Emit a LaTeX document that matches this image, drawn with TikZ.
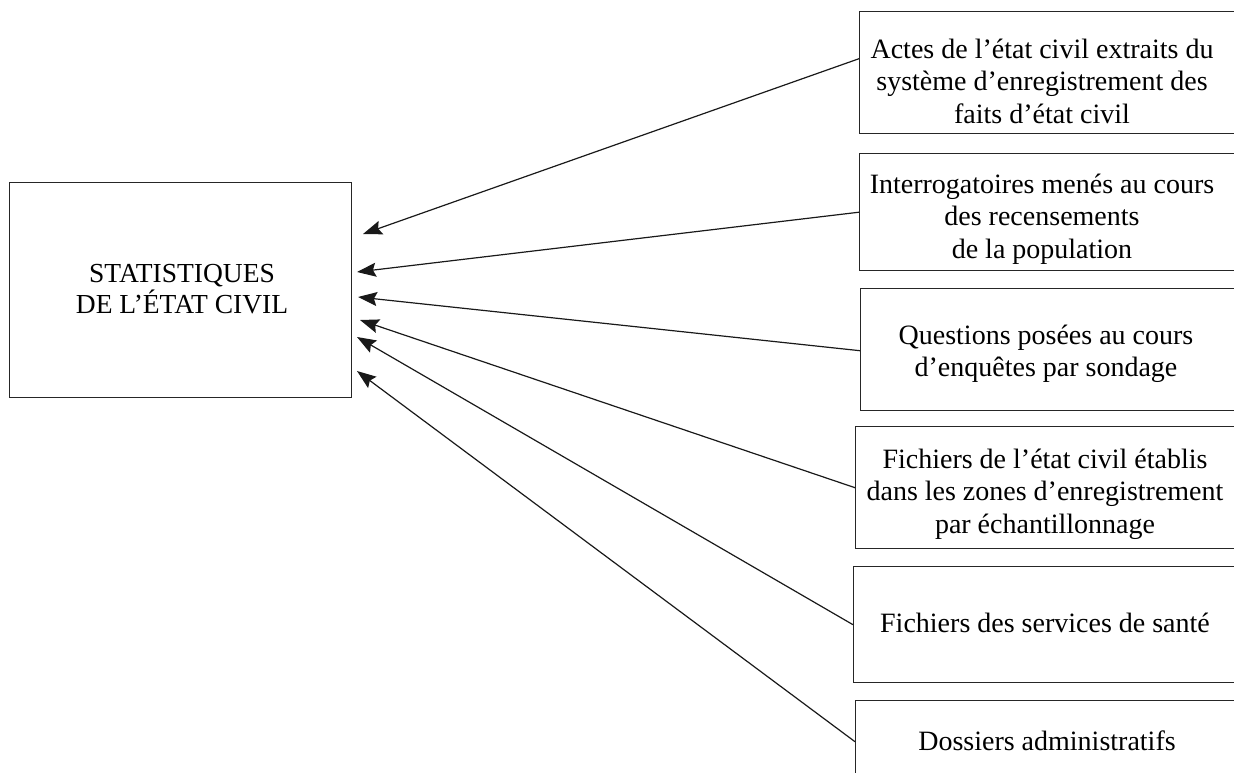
\documentclass[tikz,border=0pt]{standalone}
\usepackage{fontspec}
\setmainfont{Liberation Serif}
\usetikzlibrary{arrows.meta}
\tikzset{
  frame/.style={draw=black!85, line width=1.4pt, inner sep=0pt},
  srcbox/.style={frame, anchor=north west, minimum width=420pt},
  lbl/.style={align=center, inner sep=0pt, font=\fontsize{28}{32.5}\selectfont},
  conn/.style={draw=black!90, line width=1.2pt, -{Stealth[length=19pt,width=14pt,inset=3pt]}}
}
\begin{document}
\begin{tikzpicture}[x=1pt,y=-1pt]
\useasboundingbox (0,0) rectangle (1234,772);
\clip (0,0) rectangle (1234,772);
% main box
\node[frame, anchor=north west, minimum width=342pt, minimum height=215pt] (main) at (9,182) {};
\node[lbl, font=\fontsize{27.5}{31}\selectfont] (mainlbl) at (182,289) {STATISTIQUES\\DE L’ÉTAT CIVIL};
% source boxes
\node[srcbox, minimum height=122pt] (s1) at (859,11) {};
\node[srcbox, minimum height=117pt] (s2) at (859,153) {};
\node[srcbox, minimum height=122pt] (s3) at (860,288) {};
\node[srcbox, minimum height=122pt] (s4) at (855,426) {};
\node[srcbox, minimum height=116pt] (s5) at (853,566) {};
\node[srcbox, minimum height=120pt] (s6) at (855,700) {};
\node[lbl] (l1) at (1042,81) {Actes de l’état civil extraits du\\système d’enregistrement des\\faits d’état civil};
\node[lbl] (l2) at (1042,219) {Interrogatoires menés au cours\\des recensements\\de la population};
\node[lbl] (l3) at (1046,354) {Questions posées au cours\\d’enquêtes par sondage};
\node[lbl] (l4) at (1045,494) {Fichiers de l’état civil établis\\dans les zones d’enregistrement\\par échantillonnage};
\node[lbl] (l5) at (1045,623) {Fichiers des services de santé};
\node[lbl] (l6) at (1047,741) {Dossiers administratifs};
% arrow tips
\coordinate (t1) at (363,234);
\coordinate (t2) at (357,272);
\coordinate (t3) at (358,297);
\coordinate (t4) at (360,320);
\coordinate (t5) at (357,337);
\coordinate (t6) at (357,371);
\draw[conn] ([yshift=14pt]s1.west) -- (t1);
\draw[conn] (s2.west) -- (t2);
\draw[conn] ([yshift=-1pt]s3.west) -- (t3);
\draw[conn] (s4.west) -- (t4);
\draw[conn] (s5.west) -- (t5);
\draw[conn] ([yshift=19pt]s6.west) -- (t6);
\end{tikzpicture}
\end{document}
